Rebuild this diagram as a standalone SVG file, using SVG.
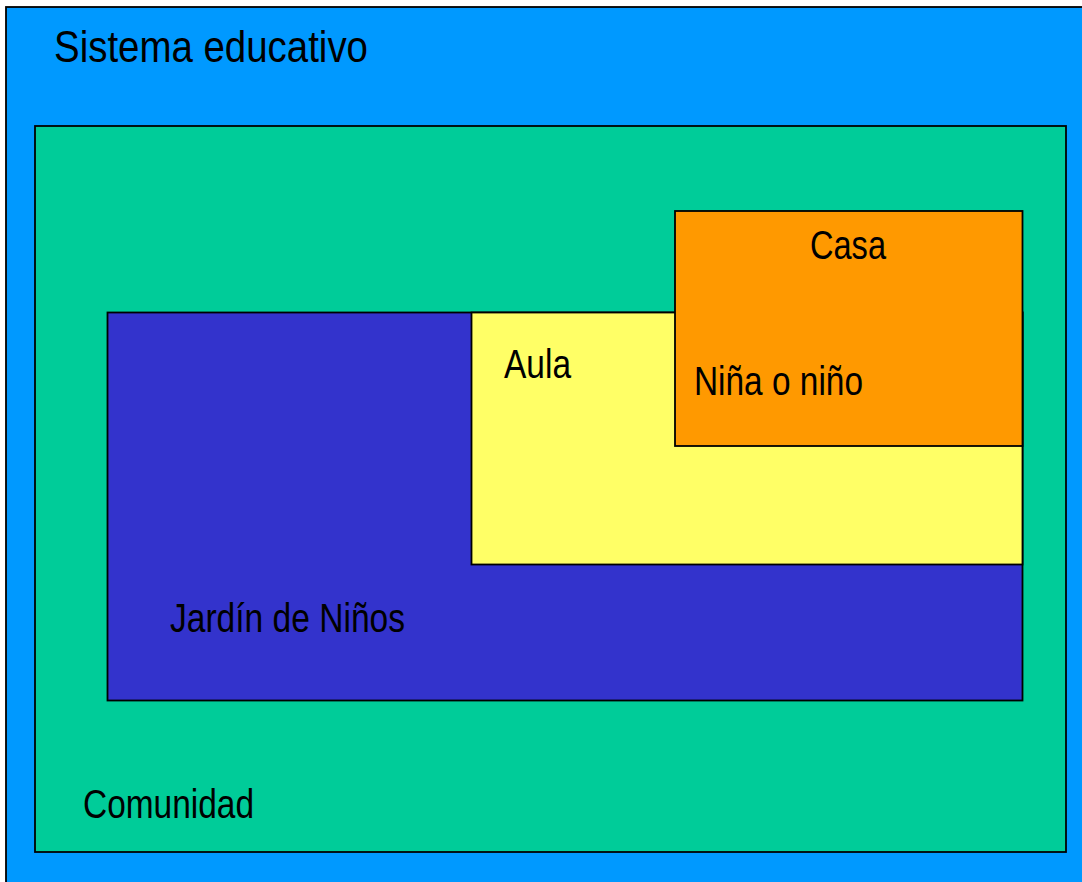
<svg xmlns="http://www.w3.org/2000/svg" width="1082" height="882" viewBox="0 0 1082 882">
<style>
.box{stroke:#000;stroke-width:1.8}
.lbl{font-family:"Liberation Sans",Arial,sans-serif;font-size:40px;fill:#000}
</style>
<rect x="0" y="0" width="1082" height="882" fill="#ffffff"/>
<g id="sistema">
<rect class="box" x="6" y="7" width="1090" height="890" fill="#0099FF"/>
<text class="lbl" x="54" y="62" style="font-size:44px" textLength="314" lengthAdjust="spacingAndGlyphs">Sistema educativo</text>
</g>
<g id="comunidad">
<rect class="box" x="35" y="126" width="1031" height="726" fill="#00CC99"/>
<text class="lbl" x="83" y="818" textLength="171" lengthAdjust="spacingAndGlyphs">Comunidad</text>
</g>
<g id="jardin">
<rect class="box" x="107.5" y="312.5" width="915" height="388" fill="#3333CC"/>
<text class="lbl" x="170" y="632" textLength="235" lengthAdjust="spacingAndGlyphs">Jardín de Niños</text>
</g>
<g id="aula">
<rect class="box" x="471.5" y="312.5" width="551" height="252" fill="#FFFF66"/>
<text class="lbl" x="504" y="378" textLength="67" lengthAdjust="spacingAndGlyphs">Aula</text>
</g>
<g id="casa">
<rect class="box" x="675" y="211" width="347.5" height="235" fill="#FF9900"/>
<text class="lbl" x="810" y="259" textLength="76" lengthAdjust="spacingAndGlyphs">Casa</text>
<text class="lbl" x="694" y="395" textLength="169" lengthAdjust="spacingAndGlyphs">Niña o niño</text>
</g>
<g id="connectors"/>
</svg>
